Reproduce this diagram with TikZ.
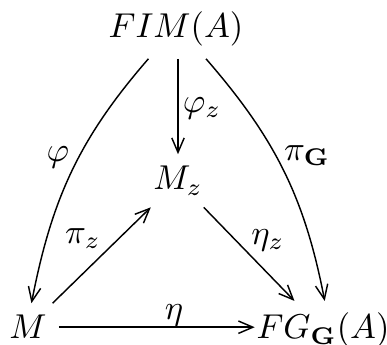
\documentclass[tikz,border=0pt]{standalone}
\usetikzlibrary{arrows.meta}
\begin{document}
\begin{tikzpicture}[x=0.29pt,y=-0.29pt,
  arr/.style={-{Straight Barb[length=4.2pt,width=3.6pt]}, line width=0.42pt},
  obj/.style={anchor=base},
  lbl/.style={inner sep=0pt}]
\useasboundingbox (0,0) rectangle (387,345);
\node[obj] (fim) at (176,38) {$FIM(A)$};
\node[obj] (mz) at (178,190) {$M_z$};
\node[obj] (m) at (28,339) {$M$};
\node[obj] (fg) at (323,339) {$FG_{\mathbf G}(A)$};
\draw[arr] (fim.south -| mz.north) -- (mz.north);
\draw[arr] ([xshift=-8pt]fim.south) to[out=229,in=79] ([xshift=1pt]m.north);
\draw[arr] ([xshift=8.7pt]fim.south) to[out=-49,in=101] ([xshift=0.5pt]fg.north);
\draw[arr] (m) -- (mz);
\draw[arr] (mz) -- (fg);
\draw[arr] (m.east) -- ([xshift=3pt]m.east -| fg.west);
\node[lbl] (lphi) at (58,157) {$\varphi$};
\node[lbl] (lphiz) at (202,108) {$\varphi_z$};
\node[lbl] (lpig) at (307,156) {$\pi_{\mathbf G}$};
\node[lbl] (lpiz) at (83,239) {$\pi_z$};
\node[lbl] (letaz) at (268,240) {$\eta_z$};
\node[lbl] (leta) at (174,315) {$\eta$};
\end{tikzpicture}
\end{document}
